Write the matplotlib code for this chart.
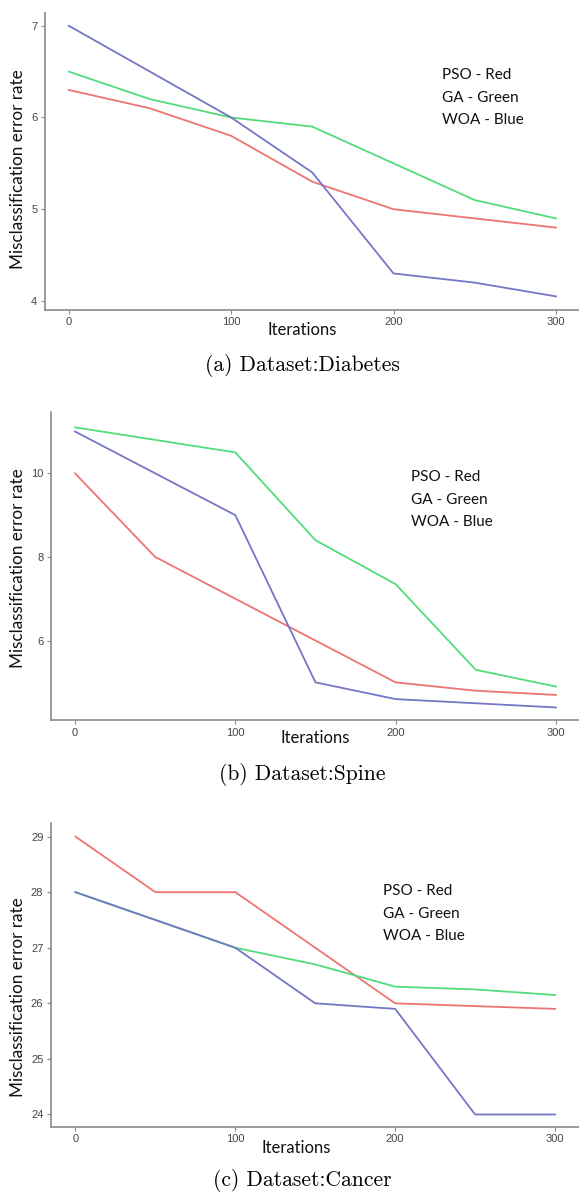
import matplotlib
matplotlib.use("Agg")
import matplotlib.pyplot as plt

# Convergence of misclassification error for three optimisers
iterations = [0, 50, 100, 150, 200, 250, 300]

diabetes_pso = [6.3, 6.1, 5.8, 5.3, 5.0, 4.9, 4.8]
diabetes_ga = [6.5, 6.2, 6.0, 5.9, 5.5, 5.1, 4.9]
diabetes_woa = [7.0, 6.5, 6.0, 5.4, 4.3, 4.2, 4.05]

spine_pso = [10.0, 8.0, 7.0, 6.0, 5.0, 4.8, 4.7]
spine_ga = [11.1, 10.8, 10.5, 8.4, 7.35, 5.3, 4.9]
spine_woa = [11.0, 10.0, 9.0, 5.0, 4.6, 4.5, 4.4]

cancer_pso = [29.0, 28.0, 28.0, 27.0, 26.0, 25.95, 25.9]
cancer_ga = [28.0, 27.5, 27.0, 26.7, 26.3, 26.25, 26.15]
cancer_woa = [28.0, 27.5, 27.0, 26.0, 25.9, 24.0, 24.0]

x_ticks = [0, 100, 200, 300]
diabetes_yticks = [4, 5, 6, 7]
spine_yticks = [6, 8, 10]
cancer_yticks = [24, 25, 26, 27, 28, 29]

captions = ["(a) Dataset:Diabetes", "(b) Dataset:Spine", "(c) Dataset:Cancer"]
legend_lines = ["PSO - Red", "GA - Green", "WOA - Blue"]

RED = "#EE7474"
GREEN = "#52DC7A"
BLUE = "#7476C6"

W, H = 579, 1195
fig = plt.figure(figsize=(W / 100, H / 100), dpi=100)


def px(x, y):
    return x / W, 1 - y / H


# panel boxes in pixels: left, top, bottom ; plus limits
panels = [
    dict(box=(45, 12.7, 309.7), xlim=(-14.6, 314.2), ylim=(3.905, 7.142),
         pso=diabetes_pso, ga=diabetes_ga, woa=diabetes_woa, yticks=diabetes_yticks,
         ylab_y=169, xlab=(302, 330), leg=(442, 75), cap_y=365),
    dict(box=(51, 412.3, 720), xlim=(-15.0, 314.4), ylim=(4.1, 11.46),
         pso=spine_pso, ga=spine_ga, woa=spine_woa, yticks=spine_yticks,
         ylab_y=568, xlab=(315, 738), leg=(411, 477), cap_y=775),
    dict(box=(51, 822.7, 1126.7), xlim=(-15.3, 315.0), ylim=(23.78, 29.25),
         pso=cancer_pso, ga=cancer_ga, woa=cancer_woa, yticks=cancer_yticks,
         ylab_y=997, xlab=(296, 1148), leg=(383, 891), cap_y=1181),
]

label_font = "Lato"

for i, p in enumerate(panels):
    left, top, bottom = p["box"]
    ax = fig.add_axes([left / W, 1 - bottom / H, (W - left) / W, (bottom - top) / H])

    ax.plot(iterations, p["pso"], color=RED, lw=1.3, zorder=2)
    ax.plot(iterations, p["ga"], color=GREEN, lw=1.3, zorder=3)
    ax.plot(iterations, p["woa"], color=BLUE, lw=1.3, zorder=4)

    ax.set_xlim(*p["xlim"])
    ax.set_ylim(*p["ylim"])
    ax.set_xticks(x_ticks)
    ax.set_yticks(p["yticks"])

    for side in ["top", "right"]:
        ax.spines[side].set_visible(False)
    for side in ["left", "bottom"]:
        ax.spines[side].set_color("#8a8a8a")
        ax.spines[side].set_linewidth(1.2)
    ax.tick_params(length=3, width=0.8, color="#8a8a8a", pad=2.5,
                   labelsize=8, labelcolor="#444444")
    for lab in ax.get_xticklabels() + ax.get_yticklabels():
        lab.set_family("Liberation Sans")

    fig.text(*px(18.5, p["ylab_y"]), "Misclassification error rate", rotation=90,
             ha="center", va="center", fontsize=12.3, family=label_font, color="#111111")
    fig.text(*px(*p["xlab"]), "Iterations", ha="center", va="center",
             fontsize=12, family=label_font, color="#111111")

    lx, ly = p["leg"]
    for k, line in enumerate(legend_lines):
        fig.text(*px(lx, ly + 22.5 * k), line, ha="left", va="center",
                 fontsize=11, family=label_font, color="#111111")

    fig.text(*px(302, p["cap_y"]), captions[i], ha="center", va="center",
             fontsize=15.5, family="cmr10")

fig.savefig("out.png", dpi=100)
